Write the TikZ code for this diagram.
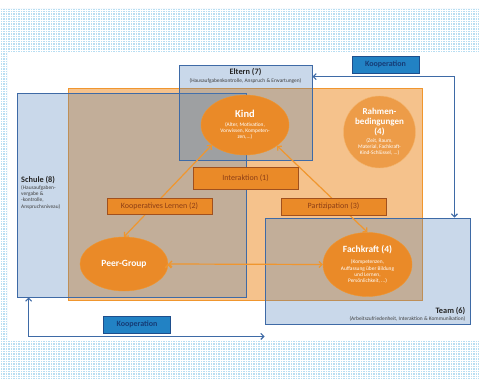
\documentclass[tikz,border=0pt]{standalone}
\usepackage{fontspec}
\setmainfont{Carlito}
\usepackage{tikz}
\usetikzlibrary{
        arrows.meta,
        positioning,
        shapes.geometric
    }
\definecolor{dotblue}{RGB}{184,222,242}
\definecolor{areablue}{RGB}{77,128,186}
\definecolor{lineblue}{RGB}{62,106,166}
\definecolor{fieldorange}{RGB}{245,194,140}
\definecolor{edgeorange}{RGB}{240,150,46}
\definecolor{bloborange}{RGB}{234,138,40}
\definecolor{tagedge}{RGB}{160,80,30}
\definecolor{tagtext}{RGB}{140,62,22}
\definecolor{koopblue}{RGB}{34,130,196}
\definecolor{koopedge}{RGB}{30,78,140}
\definecolor{kooptext}{RGB}{22,60,118}
\newcommand{\detailfont}{\fontsize{5.4}{6.2}\selectfont}
\newcommand{\namefont}{\fontsize{8.3}{9.5}\selectfont\bfseries}
\tikzset{>={Straight Barb[length=3pt,width=6pt]}}
\tikzset{
    kitafield/.style={draw=edgeorange,line width=0.9pt,fill=fieldorange,inner sep=0pt},
    bluearea/.style={draw=lineblue,line width=0.9pt,fill=areablue,fill opacity=0.3,inner sep=0pt},
    blob/.style={ellipse,draw=edgeorange,fill=bloborange,text=white,align=center,inner sep=0pt,font=\detailfont},
    tagbox/.style={draw=tagedge,line width=0.8pt,fill=bloborange,text=tagtext,minimum width=105pt,
        font=\fontsize{8}{9}\selectfont},
    koopbox/.style={draw=koopedge,line width=0.8pt,fill=koopblue,text=kooptext,minimum width=67pt,
        minimum height=17pt,font=\fontsize{8}{9}\selectfont\bfseries},
    areatitle/.style={inner sep=0pt,text=black!85,font=\namefont},
    areadetail/.style={inner sep=0pt,text=black!75,font=\detailfont},
    linkblue/.style={<->,draw=lineblue,line width=1.1pt},
    linkorange/.style={<->,draw=edgeorange,line width=1.2pt}
}

\begin{document}
\begin{tikzpicture}[x=1pt,y=-1pt]
    \useasboundingbox (0,0) rectangle (479,379);
    % dotted frame
    \fill[white] (0,0) rectangle (479,379);
    \begin{scope}
        \clip (0,9) rectangle (479,52) (0,52) rectangle (7,340) (0,340) rectangle (479,379);
        \fill[dotblue] (0,0) rectangle (479,379);
        \draw[white,line width=0.6pt,step=2.5pt] (0,0) grid (479,379);
    \end{scope}
    % areas
    \node[kitafield,minimum width=354pt,minimum height=212pt] (feld) at (245,194) {};
    \node[bluearea,minimum width=229pt,minimum height=204pt] (schule) at (131.5,195) {};
    \node[bluearea,minimum width=133pt,minimum height=95pt] (eltern) at (245.5,112.5) {};
    \node[bluearea,minimum width=205pt,minimum height=106pt] (team) at (367.5,271) {};
    % area labels
    \node[areatitle,below=4pt of eltern.north] (elternname) {Eltern (7)};
    \node[areadetail,below=1.5pt of elternname] {(Hausaufgabenkontrolle, Anspruch \& Erwartungen)};
    \node[areatitle,anchor=west] (schulename) at (21,180) {Schule (8)};
    \node[areadetail,align=left,below right=1.5pt and 0pt of schulename.south west] {(Hausaufgaben-\\vergabe \&\\-kontrolle,\\Anspruchsniveau)};
    \node[areadetail,anchor=south east] (teamdetail) at ([xshift=-5pt,yshift=3pt]team.south east) {(Arbeitszufriedenheit, Interaktion \& Kommunikation)};
    \node[areatitle,above left=1.5pt and 0pt of teamdetail.north east] {Team (6)};
    % kooperation
    \draw[linkblue] ([yshift=-12pt]eltern.north east) -| ([xshift=-16pt]team.north east);
    \draw[linkblue] ([xshift=12pt]schule.south west) |- ([yshift=-12pt]team.south west);
    \node[koopbox] (koopoben) at (385.5,64.5) {Kooperation};
    \node[koopbox] (koopunten) at (137,324.5) {Kooperation};
    % actors
    \node[blob,minimum width=88pt,minimum height=60pt] (kind) at (245,125)
        {{\fontsize{10.5}{11}\selectfont\bfseries Kind}\\[2.5pt](Alter, Motivation,\\Vorwissen, Kompeten-\\zen,...)};
    \node[blob,circle,minimum size=72pt,draw=edgeorange!70,fill=bloborange!85] (rahmen) at (379.5,132)
        {{\fontsize{9}{10}\selectfont\bfseries Rahmen-}\\[2pt]{\fontsize{9}{10}\selectfont\bfseries bedingungen}\\[1pt]{\fontsize{9}{9}\selectfont\bfseries (4)}\\[1.5pt](Zeit, Raum,\\Material, Fachkraft-\\Kind-Schlüssel, ...)};
    \node[blob,minimum width=88pt,minimum height=54pt] (peer) at (124,264)
        {\fontsize{9.5}{10}\selectfont\bfseries Peer-Group};
    \node[blob,minimum width=89pt,minimum height=64pt] (fachkraft) at (367.5,264.5)
        {{\fontsize{9.5}{11}\selectfont\bfseries Fachkraft (4)}\\[5pt](Kompetenzen,\\Auffassung über Bildung\\und Lernen,\\Persönlichkeit, ...)};
    \path[linkorange]
        (kind.211) edge (peer.north)
        (kind.327) edge (fachkraft.north)
        (peer.east) edge (fachkraft.west)
    ;
    % interactions
    \node[tagbox,minimum height=22pt] (interaktion) at (245.5,178) {Interaktion (1)};
    \node[tagbox,minimum height=16pt] (lernen) at (159.5,206) {Kooperatives Lernen (2)};
    \node[tagbox,minimum height=17pt] (partizipation) at (333.5,206.5) {Partizipation (3)};
\end{tikzpicture}
\end{document}
